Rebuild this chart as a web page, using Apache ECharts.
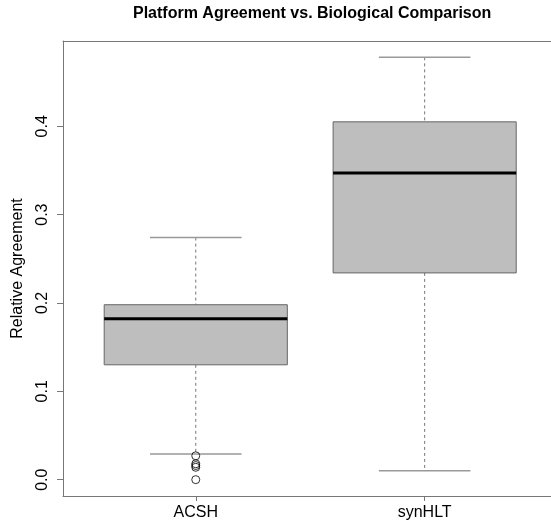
<!DOCTYPE html>
<html>
<head>
<meta charset="utf-8">
<title>Platform Agreement vs. Biological Comparison</title>
<script src="https://cdn.jsdelivr.net/npm/echarts@6/dist/echarts.min.js"></script>
<style>
  html, body { margin: 0; padding: 0; background: #fff; }
  #chart { width: 551px; height: 529px; }
</style>
</head>
<body>
<div id="chart"></div>
<script>
// box statistics
const categories = ['ACSH', 'synHLT']
const lowWhisker = [0.029, 0.010]
const q1 = [0.130, 0.234]
const median = [0.182, 0.347]
const q3 = [0.198, 0.405]
const highWhisker = [0.274, 0.478]
// outliers: [category index, value]
const outliers = [[0, 0.027], [0, 0.018], [0, 0.016], [0, 0.014], [0, 0.0]]
const yTicks = [0, 0.1, 0.2, 0.3, 0.4]

const font = 'Liberation Sans, Arial, Helvetica, sans-serif'
const frameColor = '#777'
const boxWex = 0.8

const boxData = categories.map((c, i) => [i + 1, lowWhisker[i], q1[i], median[i], q3[i], highWhisker[i]])

function renderBox(params, api) {
  const x = api.value(0)
  const lo = api.coord([x, api.value(1)])
  const b1 = api.coord([x - boxWex / 2, api.value(2)])
  const b3 = api.coord([x + boxWex / 2, api.value(4)])
  const md = api.value(3)
  const m0 = api.coord([x - boxWex / 2, md])
  const m1 = api.coord([x + boxWex / 2, md])
  const hi = api.coord([x, api.value(5)])
  const c0 = api.coord([x - boxWex / 4, 0])[0]
  const c1 = api.coord([x + boxWex / 4, 0])[0]
  return {
    type: 'group',
    children: [
      // whiskers (dashed)
      { type: 'line', shape: { x1: hi[0], y1: hi[1], x2: hi[0], y2: b3[1] },
        style: { stroke: '#777', lineWidth: 1, lineDash: [3, 3] } },
      { type: 'line', shape: { x1: lo[0], y1: b1[1], x2: lo[0], y2: lo[1] },
        style: { stroke: '#777', lineWidth: 1, lineDash: [3, 3] } },
      // staples
      { type: 'line', shape: { x1: c0, y1: hi[1], x2: c1, y2: hi[1] },
        style: { stroke: '#999', lineWidth: 1.5 } },
      { type: 'line', shape: { x1: c0, y1: lo[1], x2: c1, y2: lo[1] },
        style: { stroke: '#999', lineWidth: 1.5 } },
      // box
      { type: 'rect', shape: { x: b1[0], y: b3[1], width: b3[0] - b1[0], height: b1[1] - b3[1] },
        style: { fill: '#bebebe', stroke: '#666', lineWidth: 1 } },
      // median
      { type: 'line', shape: { x1: m0[0], y1: m0[1], x2: m1[0], y2: m1[1] },
        style: { stroke: '#000', lineWidth: 3 } }
    ]
  }
}

const chart = echarts.init(document.getElementById('chart'))
chart.setOption({
  animation: false,
  title: {
    text: 'Platform Agreement vs. Biological Comparison',
    left: 133,
    top: 6,
    padding: 0,
    textStyle: { fontFamily: font, fontSize: 16, fontWeight: 'bold', color: '#000' }
  },
  // the plot frame runs past the right edge of the picture
  grid: {
    left: 63,
    top: 41,
    right: 0,
    bottom: 33
  },
  xAxis: [
    {
      type: 'value',
      min: 0.42,
      max: 2.552,
      splitLine: { show: false },
      axisLine: { show: true, onZero: false, lineStyle: { color: frameColor } },
      axisTick: { show: true, length: 5, customValues: [1, 2], lineStyle: { color: frameColor } },
      axisLabel: {
        customValues: [1, 2],
        formatter: v => categories[Math.round(v) - 1] || '',
        margin: 9,
        fontFamily: font,
        fontSize: 16,
        color: '#000'
      }
    },
    {
      // top edge of the frame
      type: 'value',
      position: 'top',
      min: 0.42,
      max: 2.552,
      splitLine: { show: false },
      axisLine: { show: true, onZero: false, lineStyle: { color: frameColor } },
      axisTick: { show: false },
      axisLabel: { show: false }
    }
  ],
  yAxis: {
    type: 'value',
    min: -0.0185,
    max: 0.4965,
    name: 'Relative Agreement',
    nameLocation: 'middle',
    nameGap: 37,
    nameTextStyle: { fontFamily: font, fontSize: 16, color: '#000' },
    splitLine: { show: false },
    axisLine: { show: true, onZero: false, lineStyle: { color: frameColor } },
    axisTick: { show: true, length: 6, customValues: yTicks, lineStyle: { color: frameColor } },
    axisLabel: {
      customValues: yTicks,
      formatter: v => v.toFixed(1),
      rotate: 90,
      margin: 12,
      fontFamily: font,
      fontSize: 16,
      color: '#000'
    }
  },
  series: [
    {
      type: 'custom',
      renderItem: renderBox,
      data: boxData,
      encode: { x: 0, y: [1, 2, 3, 4, 5] },
      clip: false
    },
    {
      type: 'scatter',
      data: outliers.map(o => [o[0] + 1, o[1]]),
      symbol: 'circle',
      symbolSize: 8,
      itemStyle: { color: 'transparent', borderColor: '#000', borderWidth: 1 }
    }
  ]
})
</script>
</body>
</html>
